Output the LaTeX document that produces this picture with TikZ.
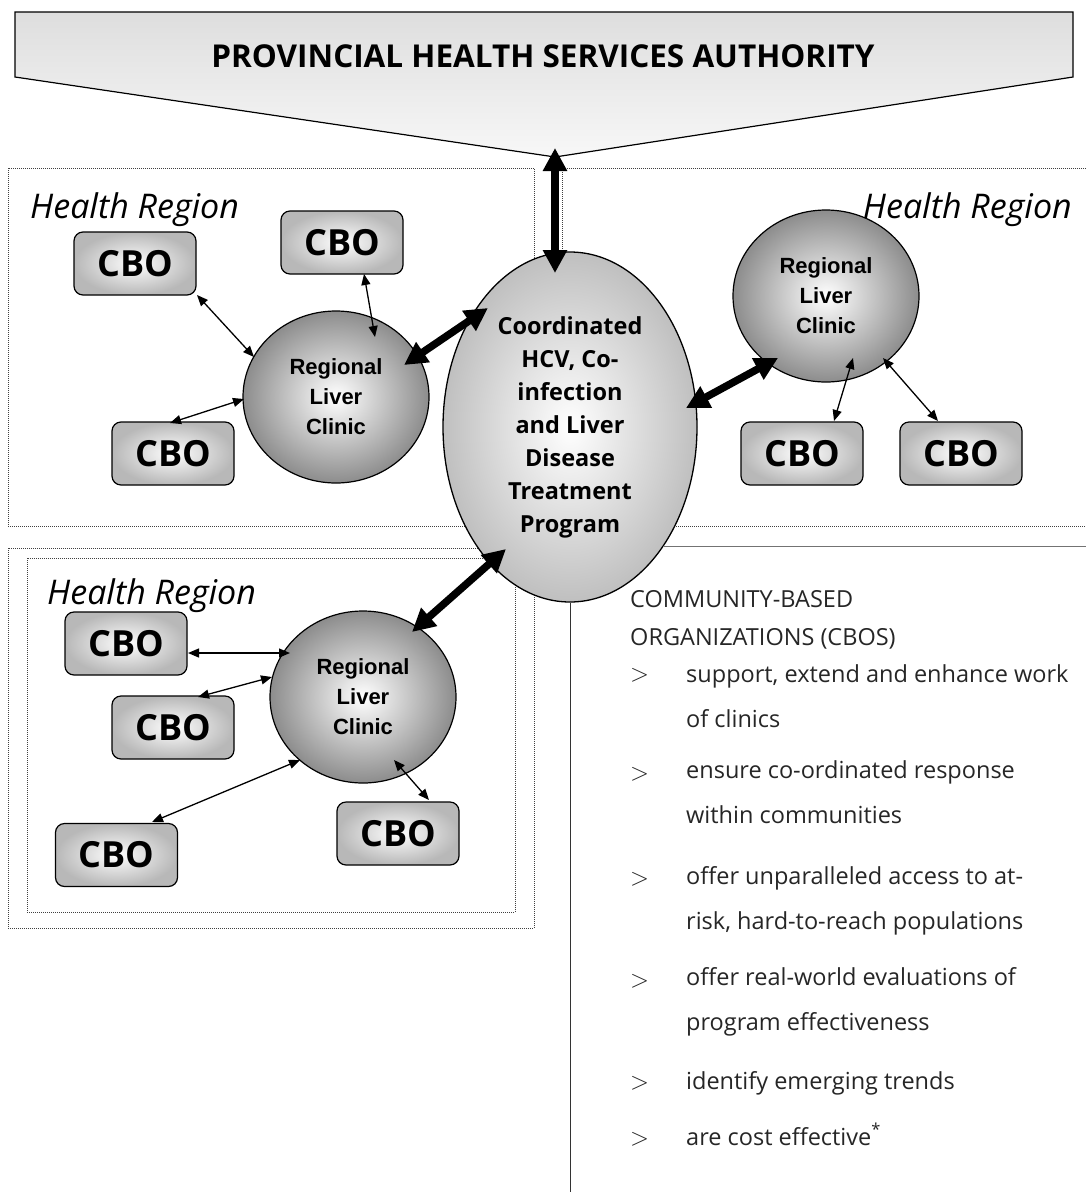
\documentclass[tikz,border=0pt]{standalone}
\usepackage{fontspec}
\setmainfont{Open Sans}
\newfontfamily\clinicfont{Liberation Sans}
\usetikzlibrary{arrows.meta,calc,shapes.geometric}
\tikzset{
 region/.style={draw=black!75,line width=1pt,densely dotted},
 cbo/.style={rectangle,rounded corners=9pt,draw,line width=1.2pt,minimum width=122pt,minimum height=63pt,inner sep=0,inner color=white,outer color=black!28,font=\bfseries\fontsize{36}{36}\selectfont},
 clinic/.style={ellipse,draw,line width=1.2pt,minimum width=186pt,minimum height=172pt,inner sep=0,inner color=white,outer color=black!45,align=center,font=\clinicfont\bfseries\fontsize{22}{30}\selectfont},
 hubnode/.style={ellipse,draw,line width=1.3pt,minimum width=254pt,minimum height=350pt,inner sep=0,inner color=white,outer color=black!25,align=center,font=\bfseries\fontsize{23.5}{33}\selectfont},
 bigarrow/.style={line width=7.5pt,{Triangle[length=23pt,width=23pt]}-{Triangle[length=23pt,width=23pt]}},
 smallarrow/.style={line width=1.3pt,{Triangle[length=11pt,width=9pt]}-{Triangle[length=11pt,width=9pt]}},
 regionlabel/.style={inner sep=0,font=\itshape\fontsize{34}{34}\selectfont},
 listhead/.style={anchor=base west,inner sep=0,align=left,text=black!85,font=\fontsize{23.5}{38}\selectfont},
 listtext/.style={anchor=base west,inner sep=0,align=left,text=black!85,font=\fontsize{23.5}{45}\selectfont},
 listmark/.style={anchor=base west,inner sep=0,text=black!85,font=\fontsize{24.88}{25}\selectfont}
}
\begin{document}
\begin{tikzpicture}[x=1pt,y=-1pt]
\useasboundingbox[fill=white] (0,0) rectangle (1086,1192);
% health regions
\draw[region] (8,168) rectangle (534,526);
\draw[region] (562,168) rectangle (1095,526);
\draw[region] (8,548) rectangle (534,928);
\draw[region] (27,558) rectangle (515,912);
% authority banner
\shade[draw,line width=1.2pt,top color=black!13,bottom color=black!3] (15,12) -- (1073,12) -- (1073,77) -- (555,157) -- (15,77) -- cycle;
\coordinate (apex) at (555,157);
\node[anchor=base,inner sep=0,font=\bfseries\fontsize{31.5}{32}\selectfont] (pha) at (543,67) {PROVINCIAL HEALTH SERVICES AUTHORITY};
% program and clinics
\node[hubnode] (hub) at (570,427) {Coordinated\\HCV, Co-\\infection\\and Liver\\Disease\\Treatment\\Program};
\draw[black!55,line width=1.3pt] (hub.-52) -- ++(450,0);
\draw[black!80,line width=1pt] (hub.south) -- ++(0,600);
\node[clinic] (clA) at (336,397) {Regional\\Liver\\Clinic};
\node[clinic] (clR) at (826,296) {Regional\\Liver\\Clinic};
\node[clinic] (clB) at (363,697) {Regional\\Liver\\Clinic};
% community based organizations
\node[cbo] (cboA1) at (135,263.5) {CBO};
\node[cbo] (cboA2) at (342,242.5) {CBO};
\node[cbo] (cboA3) at (173,453.5) {CBO};
\node[cbo] (cboR1) at (802,453.5) {CBO};
\node[cbo] (cboR2) at (961,453.5) {CBO};
\node[cbo] (cboB1) at (126,643.5) {CBO};
\node[cbo] (cboB2) at (173,727.5) {CBO};
\node[cbo] (cboB3) at (116.5,855) {CBO};
\node[cbo] (cboB4) at (398,833.5) {CBO};
% links
\draw[bigarrow] ($(apex)+(0,-9)$) -- ($(hub)+(-15,-154)$);
\draw[bigarrow] ($(clA)+(68,-32)$) -- ($(hub)+(-82,-119)$);
\draw[bigarrow] ($(hub)+(116,-19)$) -- ($(clR)+(-48,62)$);
\draw[bigarrow] ($(clB)+(49,-65)$) -- ($(hub)+(-64,122)$);
\draw[smallarrow] ($(cboA1)+(62,31.5)$) -- ($(clA)+(-82,-40)$);
\draw[smallarrow] ($(cboA2)+(22,31.5)$) -- ($(clA)+(39,-60)$);
\draw[smallarrow] ($(cboA3)+(-3,-30.5)$) -- ($(clA)+(-92,2)$);
\draw[smallarrow] ($(clR)+(27,62)$) -- ($(cboR1)+(32,-32.5)$);
\draw[smallarrow] ($(clR)+(57,62)$) -- ($(cboR2)+(-23,-32.5)$);
\draw[smallarrow] ($(cboB1)+(62,9.5)$) -- ($(clB)+(-73,-44)$);
\draw[smallarrow] ($(cboB2)+(25,-30.5)$) -- ($(clB)+(-91,-20)$);
\draw[smallarrow] ($(cboB3)+(35.5,-33)$) -- ($(clB)+(-63,63)$);
\draw[smallarrow] ($(cboB4)+(31,-33.5)$) -- ($(clB)+(31,63)$);
% region labels
\node[regionlabel,anchor=base west] (hrA) at (30,218) {Health Region};
\node[regionlabel,anchor=base east] (hrR) at (1072,218) {Health Region};
\node[regionlabel,anchor=base west] (hrB) at (47,604) {Health Region};
% CBO roles (base = last line)
\node[listhead] (head) at (630,645) {COMMUNITY-BASED\\ORGANIZATIONS (CBOS)};
\node[listmark] (mk1) at (630,681) {$>$};
\node[listtext] (it1) at (686,727) {support, extend and enhance work\\of clinics};
\node[listmark] (mk2) at (630,780) {$>$};
\node[listtext] (it2) at (686,823) {ensure co-ordinated response\\within communities};
\node[listmark] (mk3) at (630,885) {$>$};
\node[listtext] (it3) at (686,929) {offer unparalleled access to at-\\risk, hard-to-reach populations};
\node[listmark] (mk4) at (630,987) {$>$};
\node[listtext] (it4) at (686,1030) {offer real-world evaluations of\\program effectiveness};
\node[listmark] (mk5) at (630,1089) {$>$};
\node[listtext] (it5) at (686,1089) {identify emerging trends};
\node[listmark] (mk6) at (630,1145) {$>$};
\node[listtext] (it6) at (686,1145) {are cost effective\textsuperscript{*}};
\end{tikzpicture}
\end{document}
